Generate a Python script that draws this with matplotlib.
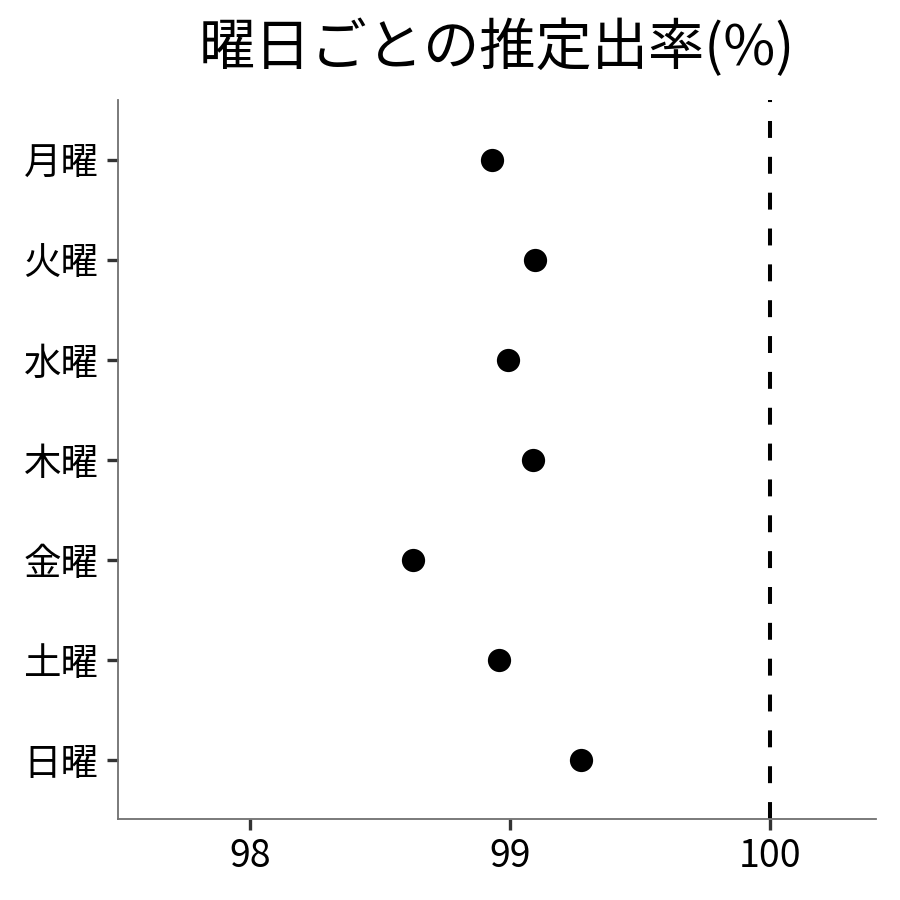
import matplotlib
matplotlib.use("Agg")
import matplotlib.pyplot as plt
import numpy as np

plt.rcParams['font.family'] = ['Noto Sans CJK JP', 'DejaVu Sans']

days = ['月曜', '火曜', '水曜', '木曜', '金曜', '土曜', '日曜']
rates = [98.93, 99.095, 98.99, 99.085, 98.625, 98.955, 99.27]
ref_value = 100
x_ticks = [98, 99, 100]
title = '曜日ごとの推定出率(%)'

fig = plt.figure(figsize=(9, 9), dpi=100)
ax = fig.add_axes([0.131, 0.09, 0.842, 0.799])

y = np.arange(len(days))
ax.scatter(rates, y, s=280, color='black', zorder=3, linewidths=0)
ax.axvline(ref_value, color='black', linewidth=2.9, dashes=(4.2, 4.7), zorder=2)

ax.set_yticks(y)
ax.set_yticklabels(days, fontsize=27)
ax.set_xticks(x_ticks)
ax.set_xticklabels([str(v) for v in x_ticks], fontsize=27)
ax.set_ylim(len(days) - 1 + 0.59, -0.6)
ax.set_xlim(97.49, 100.405)

for s in ['top', 'right']:
    ax.spines[s].set_visible(False)
for s in ['left', 'bottom']:
    ax.spines[s].set_color('#707070')
    ax.spines[s].set_linewidth(1.3)
ax.tick_params(axis='both', length=8, width=2.4, color='#333333')
ax.tick_params(axis='y', pad=6)
ax.tick_params(axis='x', pad=5)

ax.set_title(title, fontsize=40.5, pad=25)

fig.savefig('out.png', dpi=100)
